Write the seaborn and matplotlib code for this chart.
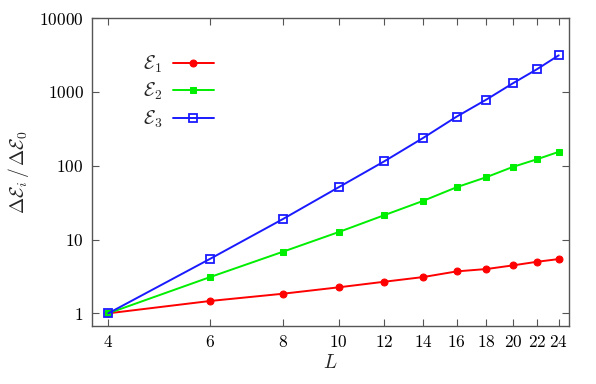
import numpy as np
import pandas as pd
import seaborn as sns
import matplotlib.pyplot as plt
from matplotlib.ticker import FixedLocator, FixedFormatter, NullLocator

# data
L = [4, 6, 8, 10, 12, 14, 16, 18, 20, 22, 24]
e1 = [1.0, 1.47, 1.84, 2.25, 2.68, 3.10, 3.70, 3.98, 4.46, 4.99, 5.43]
e2 = [1.0, 3.10, 6.8, 12.6, 21.4, 33.4, 51.2, 69.9, 96.3, 122, 154]
e3 = [1.0, 5.48, 18.8, 51.0, 115, 238, 463, 787, 1307, 2023, 3126]

xticks = [4, 6, 8, 10, 12, 14, 16, 18, 20, 22, 24]
yticks = [1, 10, 100, 1000, 10000]

sns.set_style("ticks")
plt.rcParams['mathtext.fontset'] = 'cm'
plt.rcParams['font.family'] = ['DejaVu Serif']

fig = plt.figure(figsize=(5.96, 3.84), dpi=100)
ax = fig.add_axes([0.1544, 0.151, 0.8003, 0.802])

series = [
    (e1, r'$\mathcal{E}_1$', '#ff0000', dict(marker='o', markersize=5, markerfacecolor='#ff0000', markeredgecolor='#ff0000')),
    (e2, r'$\mathcal{E}_2$', '#00ee00', dict(marker='s', markersize=5, markerfacecolor='#00ee00', markeredgecolor='#00ee00')),
    (e3, r'$\mathcal{E}_3$', '#1a1aff', dict(marker='s', markersize=6, markerfacecolor='none', markeredgecolor='#1a1aff', markeredgewidth=1.3)),
]

for vals, lab, col, mk in series:
    df = pd.DataFrame({'L': L, 'v': vals})
    sns.lineplot(data=df, x='L', y='v', ax=ax, color=col, linewidth=1.4, label=lab, **mk)

ax.set_xscale('log')
ax.set_yscale('log')
ax.set_xlim(3.75, 25.0)
ax.set_ylim(0.673, 10000)

ax.xaxis.set_major_locator(FixedLocator(xticks))
ax.xaxis.set_major_formatter(FixedFormatter([f'${t}$' for t in xticks]))
ax.xaxis.set_minor_locator(NullLocator())
ax.yaxis.set_major_locator(FixedLocator(yticks))
ax.yaxis.set_major_formatter(FixedFormatter([f'${t}$' for t in yticks]))
ax.yaxis.set_minor_locator(NullLocator())

ax.tick_params(axis='both', which='both', direction='in', top=True, right=True,
               length=5, width=0.8, colors='#555555', labelcolor='black', labelsize=12.5, pad=6)
for s in ax.spines.values():
    s.set_color('#555555')
    s.set_linewidth(1.0)

ax.set_xlabel(r'$L$', fontsize=14, labelpad=2)
ax.set_ylabel(r'$\Delta\mathcal{E}_i\,/\,\Delta\mathcal{E}_0$', fontsize=14, labelpad=6)

leg = ax.legend(loc='upper left', bbox_to_anchor=(0.07, 0.94), frameon=False, markerfirst=False,
                handlelength=2.1, labelspacing=0.3, fontsize=14, handletextpad=0.55)

fig.savefig('out.png', dpi=100)
